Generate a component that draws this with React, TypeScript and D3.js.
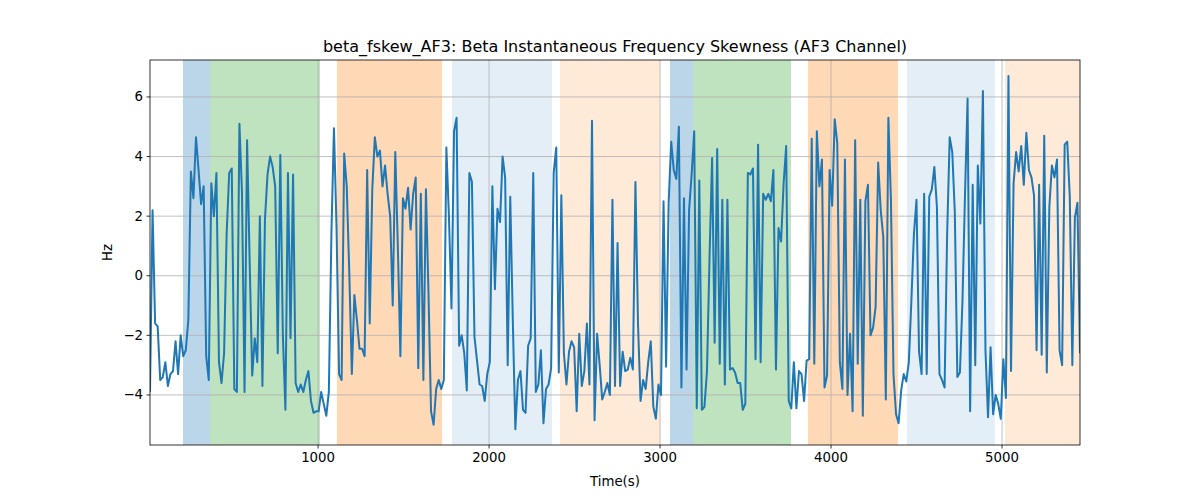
import * as d3 from 'd3'

const values: number[] = [
  -3.9, 2.2, -1.6, -1.7, -3.5, -3.4, -2.9, -3.7, -3.3, -3.2, -2.2, -3.3, -2.0, -2.7, -2.5, -1.5, 3.5, 2.6, 4.65, 3.55,
  2.4, 3.0, -2.7, -3.5, 3.1, 2.0, 3.45, -2.9, -3.6, -2.6, 1.4, 3.45, 3.6, -3.8, -3.9, 5.1, 2.8, -3.9, 4.55, 0.5,
  -3.35, -2.1, -2.9, 2.0, -3.7, 1.9, 3.4, 4.0, 3.65, 3.0, -2.6, 4.05, -2.0, -4.5, 3.45, -2.1, 3.4, -3.6, -3.9,
  // 1000-1900
  -3.65, -3.9, -3.5, -3.2, -4.2, -4.6, -4.55, -4.55, -3.9, -4.3, -4.7, -3.9, 1.4, 4.95, 1.65, -3.3, -3.5, 4.1, 3.0, 0.1,
  -3.3, -0.65, -1.5, -2.45, -2.45, -2.7, 3.55, -1.6, 2.9, 4.65, 4.0, 4.2, 3.0, 3.7, 2.75, 2.0, -1.0, 4.15, 1.0, -2.7,
  2.6, 2.25, 2.95, 1.55, 2.75, 3.3, -3.1, 2.75, -3.5, 2.9, -0.6, -4.55, -5.0, -3.8, -3.5, -3.8, -3.5, 4.3, 2.0, -1.1, 4.85,
  // 1900-2800
  5.3, -2.35, -2.0, -2.6, -3.85, 3.45, 3.15, -2.05, -2.85, -3.65, -3.7, -4.2, -3.3, -2.9, 3.0, -0.45, 2.25, 1.8, 4.0, 3.3,
  -3.0, 2.65, -1.5, -5.15, -3.5, -3.2, -4.5, -4.6, -2.35, -2.1, 3.45, -3.9, -3.65, -2.5, -4.95, -3.8, -3.65, -3.1, 3.45, 4.3,
  -3.25, 2.7, -2.6, -3.65, -2.55, -2.2, -2.4, -4.55, -1.95, -3.7, -3.2, -1.6, -3.65, 5.2, -4.85, -1.95, -3.0, -4.15, -3.9, -3.6,
  // 2800-3700
  -4.0, 2.55, -3.7, 1.1, -3.7, -2.55, -3.2, -3.15, -2.75, -3.15, 3.15, -1.6, -4.2, -3.5, -3.8, -2.9, -2.2, -4.4, -4.8, -3.65,
  -4.0, 2.5, -3.05, 2.45, 4.5, 3.55, 3.25, 5.0, -3.75, 2.6, -3.15, 2.2, 3.4, 4.85, -4.45, 3.2, -4.5, -4.4, -3.2, 0.6,
  3.95, -2.25, 4.25, -2.95, 2.55, -3.65, 2.55, -3.15, -3.1, -3.25, -3.6, -3.6, -4.5, -4.3, 3.45, 3.4, 3.6, -2.8, 4.4, -2.9, 2.75, 2.55,
  // 3700-4600
  2.75, 2.5, 3.55, -3.15, 1.6, 1.15, 3.1, 4.35, -4.2, -4.45, -2.9, -4.45, -3.2, -3.3, -4.2, -2.85, -2.8, 4.6, -2.95, 4.85,
  3.0, 3.9, -3.75, -3.35, 3.55, 2.35, 5.25, 4.45, -2.9, -3.8, 3.9, -4.0, -1.95, -4.55, 4.55, -2.95, 2.55, -4.7, 2.5, 3.05,
  -2.0, -1.75, -1.05, 3.8, 2.2, 1.3, -4.15, 5.3, 2.55, -3.3, -4.65, -4.95, -3.85, -3.3, -3.55, -2.9, -0.85, 1.4, 2.55, -2.55, -3.3, 2.75,
  // 4600-5450
  -3.3, 2.65, 2.9, 3.65, 2.3, -3.3, -3.5, -3.75, 1.4, 4.65, 4.15, 2.15, -3.4, -3.25, -0.85, 2.75, 5.95, -4.55, 3.05, -3.0,
  3.7, 1.75, 6.2, -2.5, -4.75, -2.4, -4.65, -4.0, -4.3, -4.8, -2.8, -4.1, 6.7, -3.2, 3.1, 4.15, 3.5, 4.35, 3.05, 4.8,
  3.55, 3.3, 2.7, -2.5, 3.05, -2.65, 4.7, -3.25, 2.3, 3.7, 3.3, 3.9, -2.5, -3.0, 4.4, 4.5, 2.65, -3.0, 1.95, 2.45, -2.6,
]

const tStart = 17
const tEnd = 5456

// shaded segments: [start, end, color, alpha]
const bands: [number, number, string, number][] = [
  [210, 368, '#1f77b4', 0.3],
  [368, 1011, '#2ca02c', 0.3],
  [1110, 1725, '#ff7f0e', 0.3],
  [1783, 2368, '#1f77b4', 0.12],
  [2415, 3000, '#ff7f0e', 0.16],
  [3058, 3193, '#1f77b4', 0.3],
  [3193, 3766, '#2ca02c', 0.3],
  [3865, 4391, '#ff7f0e', 0.3],
  [4444, 4958, '#1f77b4', 0.12],
  [5017, 5456, '#ff7f0e', 0.16],
]

const xTicks = [1000, 2000, 3000, 4000, 5000]
const yTicks = [-4, -2, 0, 2, 4, 6]

export default function App() {
  const width = 1200
  const height = 500
  const m = { left: 150, right: 120, top: 60, bottom: 55 }
  const x = d3.scaleLinear().domain([tStart, tEnd]).range([m.left, width - m.right])
  const y = d3.scaleLinear().domain([-5.68, 7.24]).range([height - m.bottom, m.top])
  const step = (tEnd - tStart) / (values.length - 1)
  const pts = values.map((v, i) => [tStart + i * step, v] as [number, number])
  const line = d3
    .line<[number, number]>()
    .x((d) => x(d[0]))
    .y((d) => y(d[1]))
  const font = 'DejaVu Sans, sans-serif'
  const x0 = m.left
  const x1 = width - m.right
  const y0 = m.top
  const y1 = height - m.bottom

  return (
    <div style={{ position: 'absolute', left: 0, top: 0 }}>
      <svg width={width} height={height} style={{ display: 'block', fontFamily: font }}>
        <rect width={width} height={height} fill="#fff" />
        <defs>
          <clipPath id="plot">
            <rect x={x0} y={y0} width={x1 - x0} height={y1 - y0} />
          </clipPath>
        </defs>
        <g clipPath="url(#plot)">
          {bands.map(([a, b, c, o], i) => (
            <rect key={i} x={x(a)} y={y0} width={x(b) - x(a)} height={y1 - y0} fill={c} fillOpacity={o} />
          ))}
          {xTicks.map((t) => (
            <line key={t} x1={x(t)} x2={x(t)} y1={y0} y2={y1} stroke="#b0b0b0" strokeWidth={0.8} />
          ))}
          {yTicks.map((t) => (
            <line key={t} x1={x0} x2={x1} y1={y(t)} y2={y(t)} stroke="#b0b0b0" strokeWidth={0.8} />
          ))}
          <path d={line(pts) ?? undefined} fill="none" stroke="#1f77b4" strokeWidth={2} strokeLinejoin="round" />
        </g>
        <rect x={x0} y={y0} width={x1 - x0} height={y1 - y0} fill="none" stroke="#000" strokeWidth={0.8} />
        {xTicks.map((t) => (
          <g key={t}>
            <line x1={x(t)} x2={x(t)} y1={y1} y2={y1 + 3.5} stroke="#000" strokeWidth={0.8} />
            <text x={x(t)} y={y1 + 17} fontSize={13.3} textAnchor="middle">{t}</text>
          </g>
        ))}
        {yTicks.map((t) => (
          <g key={t}>
            <line x1={x0 - 3.5} x2={x0} y1={y(t)} y2={y(t)} stroke="#000" strokeWidth={0.8} />
            <text x={x0 - 7} y={y(t) + 4.5} fontSize={13.3} textAnchor="end">{t < 0 ? '\u2212' + Math.abs(t) : String(t)}</text>
          </g>
        ))}
        <text x={(x0 + x1) / 2} y={486} fontSize={13.3} textAnchor="middle">Time(s)</text>
        <text transform={`translate(112,${(y0 + y1) / 2}) rotate(-90)`} fontSize={13.3} textAnchor="middle">Hz</text>
        <text x={(x0 + x1) / 2} y={52} fontSize={16} textAnchor="middle">beta_fskew_AF3: Beta Instantaneous Frequency Skewness (AF3 Channel)</text>
      </svg>
    </div>
  )
}
